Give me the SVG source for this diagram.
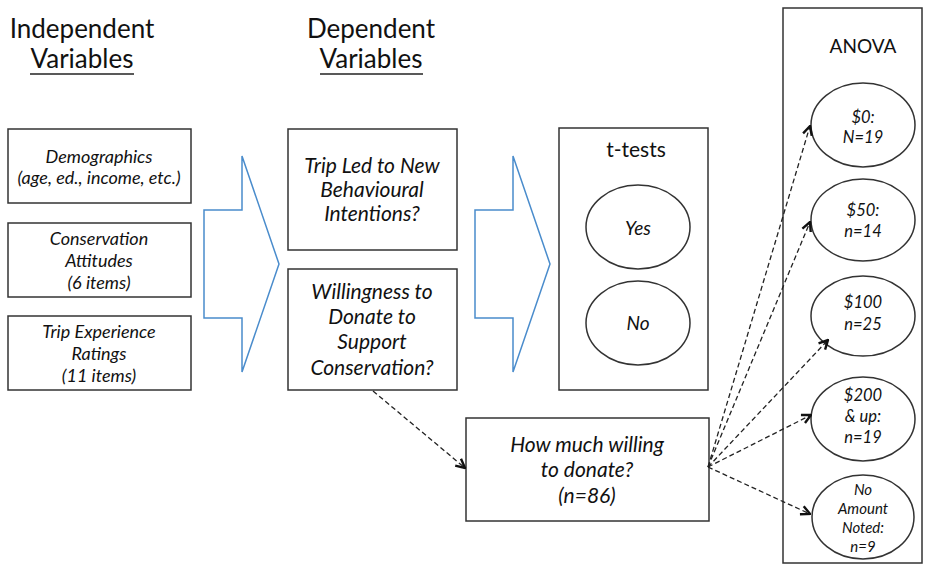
<svg xmlns="http://www.w3.org/2000/svg" width="926" height="568" viewBox="0 0 926 568">
<style>
.hdr{font-family:Lato,"Open Sans","DejaVu Sans",sans-serif;font-size:26px;fill:#111;text-anchor:middle}
.box{fill:#fff;stroke:#333;stroke-width:1.5}
.t{font-family:Lato,"Open Sans","DejaVu Sans",sans-serif;font-style:italic;fill:#111;text-anchor:middle}
.s17{font-size:18px}
.s20{font-size:21px}
.s15{font-size:16.5px}
.s14{font-size:15px}
.plain{font-family:Lato,"Open Sans","DejaVu Sans",sans-serif;fill:#111;text-anchor:middle}
.blue{fill:#fff;stroke:#4a8ccc;stroke-width:1.5}
.dash{fill:none;stroke:#222;stroke-width:1.3;stroke-dasharray:5 3;marker-end:url(#ah)}
</style>
<defs>
<marker id="ah" viewBox="0 0 12 12" refX="11" refY="6" markerWidth="12" markerHeight="12" markerUnits="userSpaceOnUse" orient="auto">
<polyline points="2,1.5 11,6 2,10.5" fill="none" stroke="#111" stroke-width="2.4"/>
</marker>
</defs>
<g id="headers">
<text class="hdr" x="82" y="38">Independent</text>
<text class="hdr" x="82" y="68">Variables</text>
<line x1="30" y1="74" x2="134" y2="74" stroke="#222" stroke-width="1.5"/>
<text class="hdr" x="371" y="38">Dependent</text>
<text class="hdr" x="371" y="68">Variables</text>
<line x1="320" y1="74" x2="423" y2="74" stroke="#222" stroke-width="1.5"/>
</g>
<g id="demographics">
<rect class="box" x="8" y="129" width="183" height="74"/>
<text class="t s17" x="99" y="163">Demographics</text>
<text class="t s17" x="99" y="184">(age, ed., income, etc.)</text>
</g>
<g id="conservation-attitudes">
<rect class="box" x="8" y="223" width="183" height="74"/>
<text class="t s17" x="99" y="245">Conservation</text>
<text class="t s17" x="99" y="267">Attitudes</text>
<text class="t s17" x="99" y="289">(6 items)</text>
</g>
<g id="trip-experience">
<rect class="box" x="8" y="316" width="183" height="74"/>
<text class="t s17" x="99" y="338">Trip Experience</text>
<text class="t s17" x="99" y="360">Ratings</text>
<text class="t s17" x="99" y="382">(11 items)</text>
</g>
<g id="arrow-iv-dv">
<polygon class="blue" points="204,210 242,210 242,156 279,264 242,372 242,318 204,318"/>
</g>
<g id="trip-led">
<rect class="box" x="288" y="129" width="169" height="121"/>
<text class="t s20" x="372" y="173">Trip Led to New</text>
<text class="t s20" x="372" y="197">Behavioural</text>
<text class="t s20" x="372" y="221">Intentions?</text>
</g>
<g id="willingness">
<rect class="box" x="288" y="269" width="169" height="121"/>
<text class="t s20" x="372" y="299">Willingness to</text>
<text class="t s20" x="372" y="324">Donate to</text>
<text class="t s20" x="372" y="349">Support</text>
<text class="t s20" x="372" y="375">Conservation?</text>
</g>
<g id="arrow-dv-tests">
<polygon class="blue" points="475,210 513,210 513,156 550,264 513,372 513,318 475,318"/>
</g>
<g id="t-tests">
<rect class="box" x="559" y="128" width="149" height="262"/>
<text class="plain" x="636" y="157" font-size="21px">t-tests</text>
<g id="yes">
<ellipse class="box" cx="638" cy="227" rx="52" ry="42"/>
<text class="t" x="638" y="235" font-size="19px">Yes</text>
</g>
<g id="no">
<ellipse class="box" cx="638" cy="323" rx="52" ry="42"/>
<text class="t" x="638" y="330" font-size="19px">No</text>
</g>
</g>
<g id="how-much">
<rect class="box" x="466" y="418" width="243" height="103"/>
<text class="t s20" x="587" y="452">How much willing</text>
<text class="t s20" x="587" y="477">to donate?</text>
<text class="t s20" x="587" y="503">(n=86)</text>
</g>
<g id="anova">
<rect class="box" x="783" y="8" width="139" height="555"/>
<text class="plain" x="863" y="53" font-size="19px">ANOVA</text>
<g id="g0">
<ellipse class="box" cx="863" cy="125" rx="52" ry="42"/>
<text class="t s15" x="863" y="123">$0:</text>
<text class="t s15" x="863" y="143">N=19</text>
</g>
<g id="g50">
<ellipse class="box" cx="863" cy="220" rx="52" ry="41"/>
<text class="t s15" x="863" y="216">$50:</text>
<text class="t s15" x="863" y="237">n=14</text>
</g>
<g id="g100">
<ellipse class="box" cx="863" cy="316" rx="52" ry="40"/>
<text class="t s15" x="863" y="308">$100</text>
<text class="t s15" x="863" y="330">n=25</text>
</g>
<g id="g200">
<ellipse class="box" cx="863" cy="419" rx="52" ry="42"/>
<text class="t s15" x="863" y="401">$200</text>
<text class="t s15" x="863" y="422">&amp; up:</text>
<text class="t s15" x="863" y="443">n=19</text>
</g>
<g id="gna">
<ellipse class="box" cx="863" cy="517" rx="51" ry="42"/>
<text class="t s14" x="863" y="495">No</text>
<text class="t s14" x="863" y="514">Amount</text>
<text class="t s14" x="863" y="533">Noted:</text>
<text class="t s14" x="863" y="552">n=9</text>
</g>
</g>
<g id="connectors">
<line class="dash" x1="373" y1="391" x2="465" y2="468"/>
<line class="dash" x1="708" y1="467" x2="810" y2="126"/>
<line class="dash" x1="708" y1="467" x2="810" y2="222"/>
<line class="dash" x1="708" y1="467" x2="828" y2="340"/>
<line class="dash" x1="708" y1="467" x2="811" y2="415"/>
<line class="dash" x1="708" y1="467" x2="810" y2="514"/>
</g>
</svg>
